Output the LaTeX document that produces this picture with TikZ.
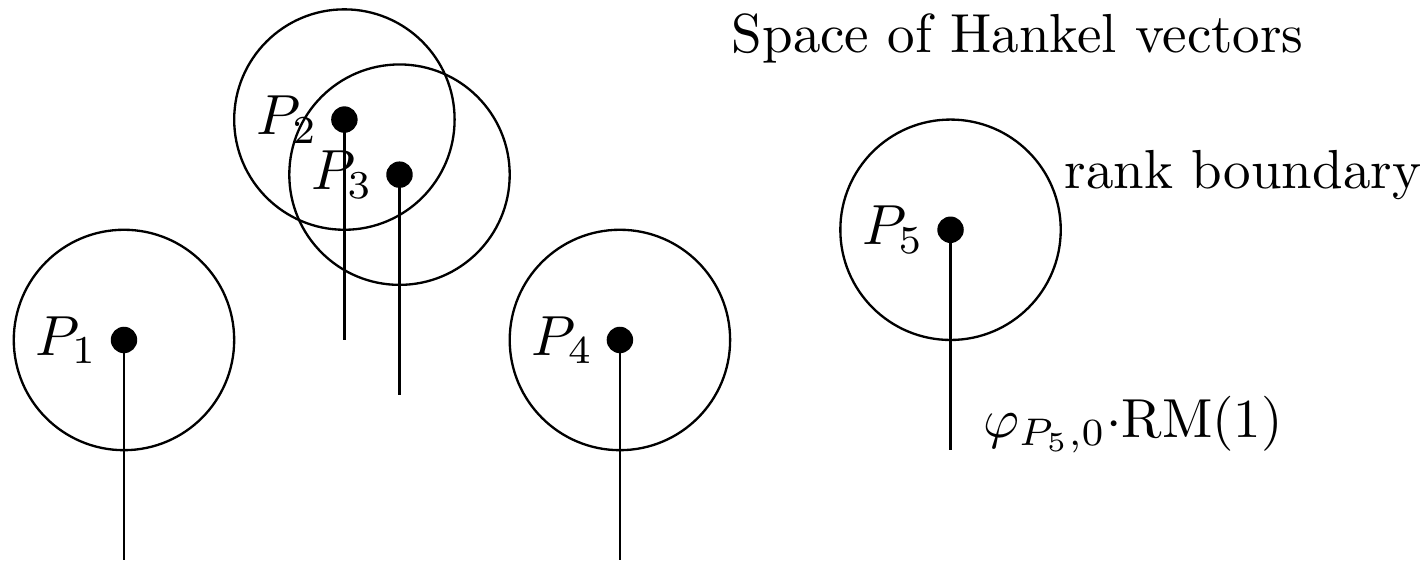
\documentclass[tikz,border=0pt]{standalone}
\begin{document}
\begin{tikzpicture}[x=1cm,y=1cm,
  ball/.style={circle,fill=black,inner sep=0pt,minimum size=0.24cm},
  ring/.style={draw=black,line width=0.6pt},
  stem/.style={draw=black,line width=0.6pt},
  lbl/.style={scale=1.46,inner sep=0pt},
  txt/.style={scale=1.42}]
\useasboundingbox (-1.125,-2.005) rectangle (11.787,3.085);
\foreach \n/\x/\y in {1/0/0,2/2/2,3/2.5/1.5,4/4.5/0,5/7.5/1}{
  \draw[ring] (\x,\y) circle (1cm);
  \node[ball] (p\n) at (\x,\y) {};
  \coordinate (e\n) at (\x,\y-2);
  \draw[stem] (p\n.center) -- (e\n);
  \node[lbl,anchor=east] (l\n) at ([xshift=-0.23cm]p\n.center) {$P_{\n}$};
}
\node[txt] (title) at (8.11,2.74) {Space of Hankel vectors};
\node[txt,anchor=west] (rb) at (8.36,1.5) {rank boundary};
\node[txt,anchor=west] (phi) at (7.62,-0.77) {$\varphi_{P_5,0}{\cdot}\mathrm{RM}(1)$};
\end{tikzpicture}
\end{document}
